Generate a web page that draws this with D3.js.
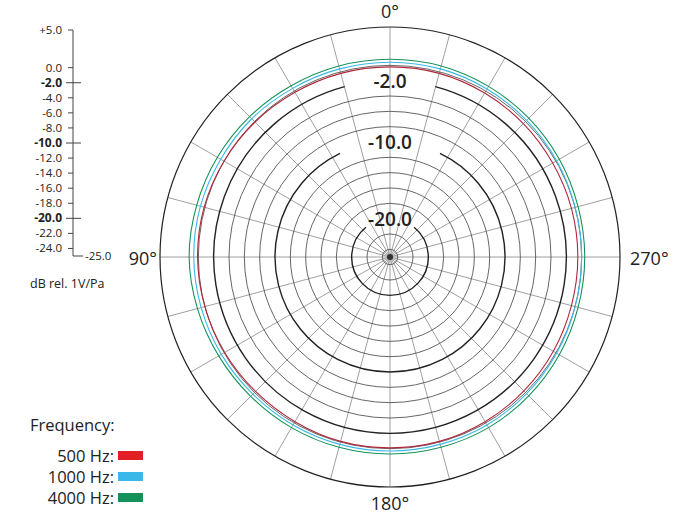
<!DOCTYPE html><html><head><meta charset="utf-8"><script src="https://cdn.jsdelivr.net/npm/d3@7"></script>
<style>body{margin:0;background:#fff}text{font-family:"Open Sans",sans-serif;fill:#222}</style></head><body><svg id="c" width="700" height="525"></svg>
<script>
const angles=[0,15,30,45,60,75,90,105,120,135,150,165,180,195,210,225,240,255,270,285,300,315,330,345,360];
const s500 =[-0.2,-0.2,-0.3,-0.4,-0.5,-0.5,-0.5,-0.5,-0.4,-0.3,-0.2,-0.1,-0.1,-0.1,-0.2,-0.2,-0.1,0.0,0.1,0.1,0.0,-0.1,-0.2,-0.2,-0.2];
const s1000=[0.4,0.4,0.3,0.2,0.1,0.0,0.0,0.0,0.1,0.2,0.3,0.3,0.3,0.3,0.3,0.3,0.4,0.5,0.6,0.6,0.5,0.5,0.4,0.4,0.4];
const s4000=[0.8,0.8,0.7,0.6,0.5,0.4,0.4,0.4,0.5,0.6,0.7,0.7,0.7,0.7,0.7,0.7,0.8,1.0,1.2,1.1,1.0,0.9,0.8,0.8,0.8];
const rings=[0,-2,-4,-6,-8,-10,-12,-14,-16,-18,-20,-22,-24];
const axisTicks=[5,0,-2,-4,-6,-8,-10,-12,-14,-16,-18,-20,-22,-24];
const boldTicks=[-2,-10,-20];
const series=[{name:"500 Hz:",color:"#e31e24",line:"#b0283c",v:s500},{name:"1000 Hz:",color:"#3ab8ea",line:"#3ab8ea",v:s1000},{name:"4000 Hz:",color:"#15925a",line:"#15925a",v:s4000}];
const svg=d3.select("#c"),cx=390,cy=257;
const r=d3.scaleLinear().domain([-25,5]).range([0,230]);
const g=svg.append("g").attr("transform",`translate(${cx},${cy})`);
d3.range(0,360,15).forEach(a=>{const t=a*Math.PI/180;g.append("line").attr("x1",0).attr("y1",0).attr("x2",r(5)*Math.sin(t)).attr("y2",-r(5)*Math.cos(t)).attr("stroke","#888").attr("stroke-width",0.8);});
rings.forEach(d=>{const bold=boldTicks.includes(d);
 if(bold){const gap=d==-2?0.26:d==-10?0.45:0.68;
  g.append("path").attr("d",d3.arc()({innerRadius:r(d),outerRadius:r(d),startAngle:gap,endAngle:2*Math.PI-gap})).attr("fill","none").attr("stroke","#222").attr("stroke-width",1.4);
  g.append("text").attr("x",0).attr("y",-r(d)+7).attr("text-anchor","middle").attr("font-size",19).attr("font-weight",600).text(d.toFixed(1));
 } else g.append("circle").attr("r",r(d)).attr("fill","none").attr("stroke","#555").attr("stroke-width",0.9);});
g.append("circle").attr("r",r(5)).attr("fill","none").attr("stroke","#222").attr("stroke-width",1.2);
g.append("circle").attr("r",3).attr("fill","#333");
const line=d3.lineRadial().angle((d,i)=>angles[i]*Math.PI/180).radius(d=>r(d)).curve(d3.curveCardinalClosed);
[...series].reverse().forEach(s=>g.append("path").attr("d",line(s.v.slice(0,24))).attr("fill","none").attr("stroke",s.line).attr("stroke-width",1.1));
[[0,cx,18,"middle"],[90,cx-233,265,"end"],[270,cx+240,265,"start"],[180,cx,510,"middle"]].forEach(([a,x,y,an])=>svg.append("text").attr("x",x).attr("y",y).attr("text-anchor",an).attr("font-size",18).text(a+"°"));
const y=d3.scaleLinear().domain([-25,5]).range([256,30]);
const ax=svg.append("g");
ax.append("line").attr("x1",73).attr("x2",73).attr("y1",y(5)).attr("y2",y(-25)).attr("stroke","#444");
ax.append("line").attr("x1",73).attr("x2",83).attr("y1",y(-25)).attr("y2",y(-25)).attr("stroke","#444");
axisTicks.forEach(t=>{const b=boldTicks.includes(t);
 ax.append("line").attr("x1",b?66:68).attr("x2",b?81:73).attr("y1",y(t)).attr("y2",y(t)).attr("stroke","#444");
 ax.append("text").attr("x",62).attr("y",y(t)+4).attr("text-anchor","end").attr("font-size",b?12:11.5).attr("font-weight",b?700:400).text((t>0?"+":"")+t.toFixed(1));});
ax.append("text").attr("x",85).attr("y",y(-25)+4).attr("font-size",11.5).text("-25.0");
ax.append("text").attr("x",30).attr("y",288).attr("font-size",12.5).text("dB rel. 1V/Pa");
svg.append("text").attr("x",30).attr("y",431).attr("font-size",16.5).text("Frequency:");
series.forEach((s,i)=>{svg.append("text").attr("x",114).attr("y",462+i*21).attr("text-anchor","end").attr("font-size",16.5).attr("font-weight",500).text(s.name);
 svg.append("rect").attr("x",118).attr("y",451+i*21).attr("width",25).attr("height",9).attr("fill",s.color);});
</script></body></html>
